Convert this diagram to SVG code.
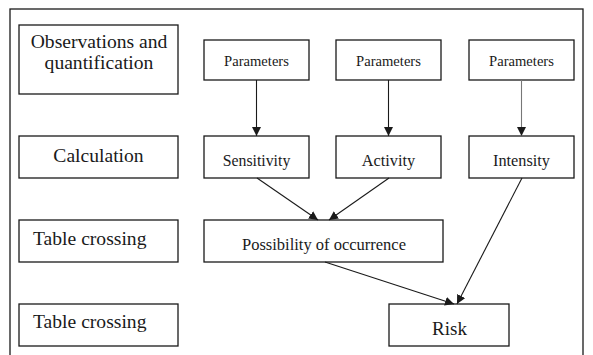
<svg xmlns="http://www.w3.org/2000/svg" width="593" height="355" viewBox="0 0 593 355">
  <style>
    .box { fill: #fff; stroke: #1a1a1a; stroke-width: 1.3; }
    .frame { fill: none; stroke: #1a1a1a; stroke-width: 1.3; }
    text { fill: #1a1a1a; }
    .lbl { font-size: 19.6px; }
    .c { text-anchor: middle; }
    .edge { fill: none; stroke: #1a1a1a; stroke-width: 1.1; marker-end: url(#arrow); }
    .edge.light { stroke: #777; }
  </style>
  <defs>
    <marker id="arrow" viewBox="0 0 10 10" refX="10" refY="5" markerWidth="9" markerHeight="9" markerUnits="userSpaceOnUse" orient="auto">
      <path d="M0,0 L10,5 L0,10 Z" fill="#1a1a1a"/>
    </marker>
  </defs>
  <rect width="593" height="355" fill="#fff"/>
  <rect class="frame" x="10" y="9" width="573" height="360"/>

  <g font-family="'Liberation Serif', 'DejaVu Serif', serif">
  <!-- stage labels -->
  <g id="stage-observations">
    <rect class="box" x="19" y="25" width="159" height="69"/>
    <text class="lbl c" x="99" y="48">Observations and</text>
    <text class="lbl c" x="99" y="69">quantification</text>
  </g>
  <g id="stage-calculation">
    <rect class="box" x="19" y="136" width="159" height="42"/>
    <text class="lbl c" x="98.5" y="162">Calculation</text>
  </g>
  <g id="stage-table-1">
    <rect class="box" x="19" y="220" width="159" height="42"/>
    <text class="lbl" x="33" y="245">Table crossing</text>
  </g>
  <g id="stage-table-2">
    <rect class="box" x="19" y="304" width="159" height="42"/>
    <text class="lbl" x="33" y="328">Table crossing</text>
  </g>

  <!-- parameter inputs -->
  <g id="params-1">
    <rect class="box" x="204" y="40" width="105" height="40"/>
    <text class="c" x="256.5" y="66" font-size="14.6">Parameters</text>
  </g>
  <g id="params-2">
    <rect class="box" x="336" y="40" width="105" height="40"/>
    <text class="c" x="388.5" y="66" font-size="14.6">Parameters</text>
  </g>
  <g id="params-3">
    <rect class="box" x="469" y="40" width="105" height="40"/>
    <text class="c" x="521.5" y="66" font-size="14.6">Parameters</text>
  </g>

  <!-- computed factors -->
  <g id="sensitivity">
    <rect class="box" x="204" y="136" width="105" height="42"/>
    <text class="c" x="256.5" y="166" font-size="15.8">Sensitivity</text>
  </g>
  <g id="activity">
    <rect class="box" x="336" y="136" width="105" height="42"/>
    <text class="c" x="388.5" y="166" font-size="16.3">Activity</text>
  </g>
  <g id="intensity">
    <rect class="box" x="469" y="136" width="105" height="42"/>
    <text class="c" x="521.5" y="166" font-size="16.3">Intensity</text>
  </g>

  <g id="possibility">
    <rect class="box" x="204" y="220" width="239" height="42"/>
    <text class="c" x="324" y="250" font-size="16.5">Possibility of occurrence</text>
  </g>
  <g id="risk">
    <rect class="box" x="389" y="304" width="120" height="42"/>
    <text class="c" x="449.5" y="335" font-size="19">Risk</text>
  </g>
  </g>

  <g id="connectors">
    <line class="edge" x1="256.5" y1="80" x2="256.5" y2="136"/>
    <line class="edge" x1="388.5" y1="80" x2="388.5" y2="136"/>
    <line class="edge light" x1="521.5" y1="80" x2="521.5" y2="136"/>
    <line class="edge" x1="257" y1="178" x2="318" y2="220"/>
    <line class="edge" x1="389" y1="178" x2="329" y2="220"/>
    <line class="edge" x1="325" y1="262" x2="454" y2="304"/>
    <line class="edge" x1="522" y1="178" x2="457" y2="304"/>
  </g>
</svg>
